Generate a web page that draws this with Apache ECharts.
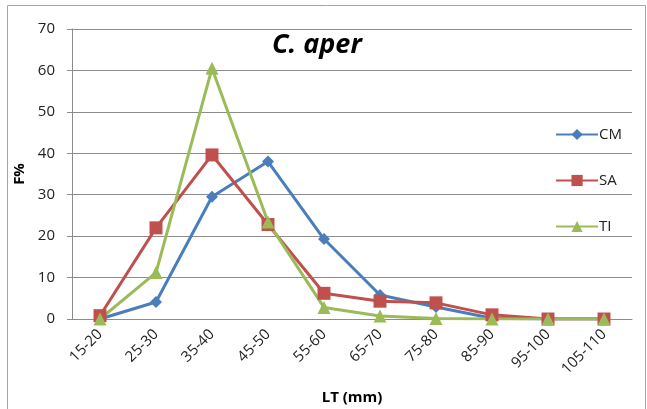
<!DOCTYPE html>
<html>
<head>
<meta charset="utf-8">
<script src="https://cdn.jsdelivr.net/npm/echarts@6/dist/echarts.min.js"></script>
<style>
  html, body { margin: 0; padding: 0; background: #fff; }
  #chart { width: 647px; height: 409px; }
</style>
</head>
<body>
<div id="chart"></div>
<script>
// Length classes (mm)
const categories = ['15-20', '25-30', '35-40', '45-50', '55-60', '65-70', '75-80', '85-90', '95-100', '105-110'];
// Frequency (%) per site
const cmValues = [0, 4.1, 29.5, 38.0, 19.3, 5.8, 2.9, 0.2, 0, 0];
const saValues = [0.8, 22.0, 39.6, 22.8, 6.2, 4.3, 3.9, 1.0, 0, 0];
const tiValues = [0, 11.2, 60.5, 23.4, 2.8, 0.7, 0.1, 0, 0, 0];
const yTicks = [0, 10, 20, 30, 40, 50, 60, 70];

const font = '"Open Sans", Lato, sans-serif';
const chart = echarts.init(document.getElementById('chart'));

const lineSeries = (name, data, color, symbol, size) => ({
  name, type: 'line', data,
  symbol, symbolSize: size,
  lineStyle: { color, width: 3 },
  itemStyle: { color },
  z: 3
});

chart.setOption({
  animation: false,
  backgroundColor: '#fff',
  graphic: [{
    type: 'rect', silent: true, z: -1,
    shape: { x: 7.5, y: 5.5, width: 638, height: 410 },
    style: { fill: 'none', stroke: '#a6a6a6', lineWidth: 1 }
  }, {
    type: 'text', left: 272, top: 32,
    style: { text: 'C. aper', font: 'italic bold 27px ' + font, fill: '#000' }
  }],
  grid: { left: 72, right: 15, top: 29, bottom: 90, containLabel: false, outerBoundsMode: 'none' },
  legend: {
    orient: 'vertical', right: 20, top: 122, itemGap: 31,
    itemWidth: 42, itemHeight: 14,
    textStyle: { fontFamily: font, fontSize: 15, color: '#222', padding: [0, 0, 0, -4] },
    data: ['CM', 'SA', 'TI']
  },
  xAxis: {
    type: 'category', data: categories, boundaryGap: true,
    name: 'LT (mm)', nameLocation: 'middle', nameGap: 71,
    nameTextStyle: { fontFamily: font, fontSize: 15, fontWeight: 'bold', color: '#000' },
    axisLine: { lineStyle: { color: '#8c8c8c' } },
    axisTick: { length: 6, lineStyle: { color: '#8c8c8c' } },
    axisLabel: { rotate: 45, fontFamily: font, fontSize: 15, color: '#222', margin: 13 }
  },
  yAxis: {
    type: 'value', min: 0, max: 70, interval: 10,
    name: 'F%', nameLocation: 'middle', nameGap: 44,
    nameTextStyle: { fontFamily: font, fontSize: 15, fontWeight: 'bold', color: '#000' },
    axisLine: { show: true, lineStyle: { color: '#8c8c8c' } },
    axisTick: { show: true, length: 5, lineStyle: { color: '#8c8c8c' } },
    axisLabel: {
      fontFamily: font, fontSize: 15, color: '#222', margin: 17,
      formatter: v => yTicks.includes(v) ? String(v) : ''
    },
    splitLine: { lineStyle: { color: '#8c8c8c', width: 1 } }
  },
  series: [
    lineSeries('CM', cmValues, '#4a7ebb', 'diamond', 12),
    lineSeries('SA', saValues, '#c0504d', 'rect', 13),
    lineSeries('TI', tiValues, '#9bbb59', 'triangle', 13)
  ]
});
</script>
</body>
</html>
